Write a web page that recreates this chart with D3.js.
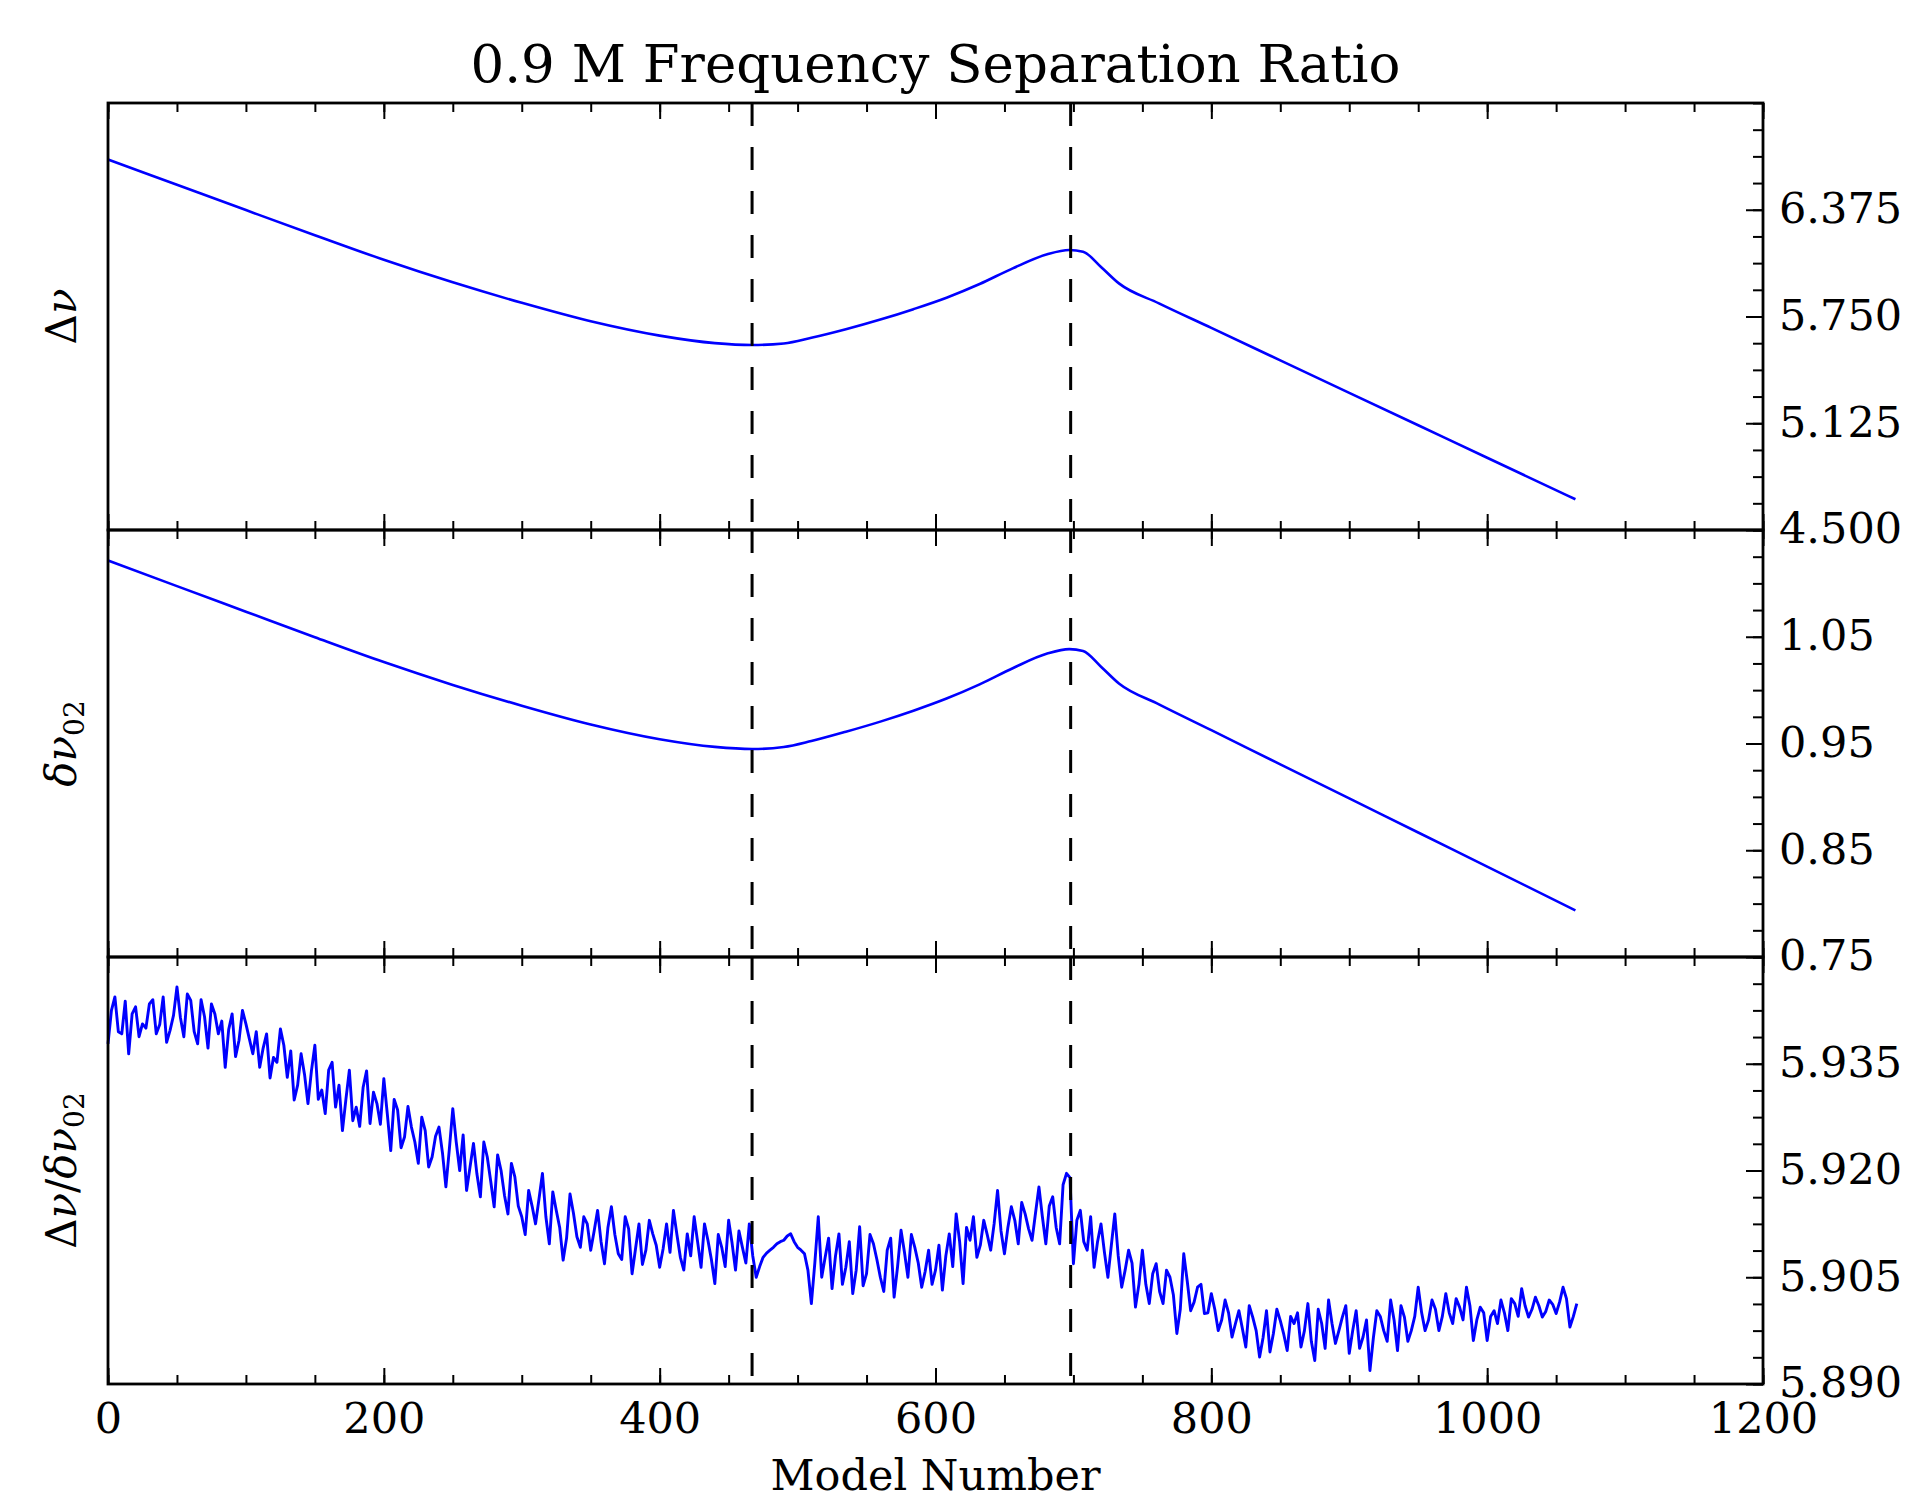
<!DOCTYPE html>
<html>
<head>
<meta charset="utf-8">
<script src="https://cdn.jsdelivr.net/npm/d3@7"></script>
<style>
  body { margin: 0; background: #fff; }
  svg text { font-family: "DejaVu Serif", serif; fill: #000; }
</style>
</head>
<body>
<div id="chart"></div>
<script>
// model numbers sampled along the smooth curves
const models = [0, 50, 100, 150, 200, 250, 300, 350, 400, 440, 467, 490, 510, 535, 560, 584,
    608, 632, 656, 681, 697, 707, 720, 733, 762, 800, 850, 900, 950, 1000, 1064];
// large separation (Δν)
const deltaNu = [6.669, 6.521, 6.373, 6.226, 6.082, 5.950, 5.830, 5.722, 5.638, 5.594, 5.583, 5.592,
    5.625, 5.675, 5.732, 5.793, 5.860, 5.940, 6.032, 6.114, 6.139, 6.129, 6.040, 5.944, 5.827,
    5.683, 5.493, 5.303, 5.113, 4.923, 4.680];
// small separation (δν02)
const smallSep = [1.1214, 1.0974, 1.0735, 1.0496, 1.0263, 1.0049, 0.9854, 0.9678, 0.9540, 0.9468,
    0.9448, 0.9467, 0.9523, 0.9610, 0.9705, 0.9807, 0.9921, 1.0054, 1.0205, 1.0342, 1.0384, 1.0366,
    1.0219, 1.0062, 0.9867, 0.9625, 0.9305, 0.8986, 0.8666, 0.8347, 0.7937];
// ratio Δν/δν02, one value every 2.5 models
const ratioModels = d3.range(0, 1065.1, 2.5);
const ratio = [
    5.9378, 5.9425, 5.9444, 5.9395, 5.9392, 5.9438, 5.9364, 5.9420, 5.9430, 5.9388, 5.9406, 5.9400, 5.9434, 5.9440, 5.9392, 5.9405, 5.9444, 5.9380, 5.9397, 5.9418,
    5.9458, 5.9415, 5.9388, 5.9448, 5.9439, 5.9395, 5.9378, 5.9440, 5.9416, 5.9372, 5.9434, 5.9420, 5.9392, 5.9410, 5.9345, 5.9398, 5.9420, 5.9360, 5.9383, 5.9425,
    5.9406, 5.9385, 5.9364, 5.9395, 5.9345, 5.9372, 5.9392, 5.9330, 5.9359, 5.9352, 5.9399, 5.9376, 5.9331, 5.9368, 5.9299, 5.9320, 5.9364, 5.9335, 5.9294, 5.9340,
    5.9376, 5.9300, 5.9313, 5.9280, 5.9341, 5.9352, 5.9289, 5.9320, 5.9256, 5.9300, 5.9341, 5.9270, 5.9289, 5.9262, 5.9317, 5.9340, 5.9266, 5.9310, 5.9294, 5.9265,
    5.9329, 5.9280, 5.9228, 5.9300, 5.9285, 5.9232, 5.9247, 5.9290, 5.9261, 5.9240, 5.9210, 5.9275, 5.9256, 5.9205, 5.9219, 5.9248, 5.9261, 5.9225, 5.9177, 5.9230,
    5.9287, 5.9240, 5.9200, 5.9250, 5.9172, 5.9205, 5.9238, 5.9195, 5.9163, 5.9240, 5.9219, 5.9185, 5.9149, 5.9222, 5.9200, 5.9165, 5.9139, 5.9210, 5.9191, 5.9150,
    5.9135, 5.9110, 5.9172, 5.9150, 5.9125, 5.9160, 5.9196, 5.9135, 5.9097, 5.9170, 5.9144, 5.9120, 5.9074, 5.9105, 5.9167, 5.9140, 5.9107, 5.9092, 5.9135, 5.9125,
    5.9088, 5.9115, 5.9144, 5.9100, 5.9069, 5.9120, 5.9149, 5.9110, 5.9083, 5.9075, 5.9135, 5.9118, 5.9055, 5.9090, 5.9125, 5.9068, 5.9088, 5.9130, 5.9111, 5.9095,
    5.9064, 5.9090, 5.9125, 5.9085, 5.9144, 5.9110, 5.9078, 5.9060, 5.9111, 5.9080, 5.9135, 5.9100, 5.9064, 5.9125, 5.9102, 5.9075, 5.9041, 5.9110, 5.9092, 5.9065,
    5.9130, 5.9098, 5.9060, 5.9115, 5.9092, 5.9070, 5.9125, 5.9080, 5.9050, 5.9065, 5.9078, 5.9084, 5.9088, 5.9092, 5.9097, 5.9100, 5.9102, 5.9108, 5.9111, 5.9100,
    5.9092, 5.9088, 5.9083, 5.9060, 5.9013, 5.9070, 5.9135, 5.9050, 5.9078, 5.9105, 5.9034, 5.9080, 5.9111, 5.9040, 5.9064, 5.9100, 5.9027, 5.9060, 5.9121, 5.9038,
    5.9055, 5.9110, 5.9097, 5.9075, 5.9050, 5.9030, 5.9088, 5.9105, 5.9022, 5.9065, 5.9116, 5.9085, 5.9050, 5.9110, 5.9092, 5.9070, 5.9036, 5.9058, 5.9088, 5.9040,
    5.9060, 5.9095, 5.9032, 5.9080, 5.9111, 5.9065, 5.9139, 5.9100, 5.9041, 5.9120, 5.9102, 5.9135, 5.9078, 5.9095, 5.9130, 5.9110, 5.9088, 5.9125, 5.9172, 5.9115,
    5.9083, 5.9120, 5.9149, 5.9130, 5.9097, 5.9155, 5.9139, 5.9118, 5.9102, 5.9140, 5.9177, 5.9135, 5.9097, 5.9150, 5.9163, 5.9120, 5.9097, 5.9180, 5.9196, 5.9190,
    5.9069, 5.9130, 5.9144, 5.9100, 5.9088, 5.9135, 5.9064, 5.9100, 5.9125, 5.9085, 5.9050, 5.9095, 5.9139, 5.9080, 5.9036, 5.9060, 5.9088, 5.9070, 5.9008, 5.9040,
    5.9088, 5.9040, 5.9013, 5.9055, 5.9069, 5.9030, 5.9013, 5.9060, 5.9050, 5.9025, 5.8971, 5.9005, 5.9083, 5.9045, 5.9003, 5.9015, 5.9036, 5.9040, 5.8999, 5.9000,
    5.9027, 5.9005, 5.8975, 5.8990, 5.9018, 5.9000, 5.8966, 5.8985, 5.9003, 5.8978, 5.8952, 5.9010, 5.8994, 5.8975, 5.8938, 5.8965, 5.9003, 5.8945, 5.8971, 5.9005,
    5.8989, 5.8970, 5.8947, 5.8995, 5.8985, 5.9000, 5.8952, 5.8975, 5.9013, 5.8960, 5.8933, 5.9005, 5.8985, 5.8950, 5.9018, 5.8985, 5.8957, 5.8975, 5.8994, 5.9010,
    5.8943, 5.8975, 5.9003, 5.8950, 5.8966, 5.8990, 5.8919, 5.8965, 5.9003, 5.8995, 5.8975, 5.8960, 5.9018, 5.8990, 5.8947, 5.9010, 5.8994, 5.8960, 5.8975, 5.8995,
    5.9036, 5.9000, 5.8975, 5.8990, 5.9018, 5.9005, 5.8975, 5.8995, 5.9027, 5.9000, 5.8985, 5.9020, 5.9008, 5.8990, 5.9036, 5.9010, 5.8961, 5.8990, 5.9008, 5.9000,
    5.8961, 5.8995, 5.9003, 5.8985, 5.9018, 5.9000, 5.8975, 5.9020, 5.9013, 5.8995, 5.9034, 5.9010, 5.8994, 5.9005, 5.9022, 5.9010, 5.8994, 5.9002, 5.9018, 5.9012,
    5.8999, 5.9015, 5.9036, 5.9020, 5.8980, 5.8995, 5.9013
];
// dashed marker lines
const markers = [467, 698];

// tick labels
const xTickLabels = ['0', '200', '400', '600', '800', '1000', '1200'];
const dnuTicks = ['4.500', '5.125', '5.750', '6.375'];
const sepTicks = ['0.75', '0.85', '0.95', '1.05'];
const ratioTicks = ['5.890', '5.905', '5.920', '5.935'];
const dnuDomain = [4.5, 7.0];
const sepDomain = [0.75, 1.15];
const ratioDomain = [5.89, 5.95];

const fullWidth = 1909;
const fullHeight = 1503;
const plotLeft = 108, plotRight = 1763, plotTop = 103;
const panelHeight = 427;

const svg = d3.select('#chart')
    .append('svg')
    .attr('width', fullWidth)
    .attr('height', fullHeight);

const x = d3.scaleLinear().domain([0, 1200]).range([plotLeft, plotRight]);
const xMinor = d3.range(0, 1201, 50);

svg.append('text')
    .attr('x', (plotLeft + plotRight) / 2)
    .attr('y', 82)
    .attr('text-anchor', 'middle')
    .style('font-size', '53px')
    .text('0.9 M Frequency Separation Ratio');

const panels = [
    {xs: models, ys: deltaNu, domain: dnuDomain, ticks: dnuTicks, minor: 0.15625, curve: d3.curveMonotoneX, width: 2.6},
    {xs: models, ys: smallSep, domain: sepDomain, ticks: sepTicks, minor: 0.025, curve: d3.curveMonotoneX, width: 2.6},
    {xs: ratioModels, ys: ratio, domain: ratioDomain, ticks: ratioTicks, minor: 0.00375, curve: d3.curveLinear, width: 2.9}
];

panels.forEach((p, i) => {
    const y0 = plotTop + i * panelHeight;
    const y = d3.scaleLinear().domain(p.domain).range([y0 + panelHeight, y0]);
    const g = svg.append('g');

    // Line
    const line = d3.line()
        .x((d, j) => x(p.xs[j]))
        .y(d => y(d))
        .curve(p.curve);
    g.append('path')
        .datum(p.ys)
        .attr('d', line)
        .attr('fill', 'none')
        .attr('stroke', '#0000ff')
        .attr('stroke-width', p.width)
        .attr('stroke-linejoin', 'round');

    // Dashed markers
    g.selectAll('.marker')
        .data(markers)
        .enter()
        .append('line')
        .attr('x1', d => x(d))
        .attr('x2', d => x(d))
        .attr('y1', y0)
        .attr('y2', y0 + panelHeight)
        .attr('stroke', '#000')
        .attr('stroke-width', 3)
        .attr('stroke-dasharray', '23,21');

    // Right y axis, ticks pointing inward
    const majorVals = p.ticks.map(Number);
    const minorVals = d3.range(p.domain[0], p.domain[1] + 1e-9, p.minor);
    g.append('g')
        .attr('transform', `translate(${plotRight}, 0)`)
        .call(d3.axisRight(y).tickValues(minorVals).tickSize(-10).tickFormat(''));
    const yAxis = g.append('g')
        .attr('transform', `translate(${plotRight}, 0)`)
        .call(d3.axisRight(y).tickValues(majorVals).tickSize(-17).tickPadding(16)
            .tickFormat((d, j) => p.ticks[j]));
    yAxis.selectAll('text').style('font-size', '43px').attr('dy', '0.3em');

    // x ticks top and bottom
    const xt = xTickLabels.map(Number);
    [[d3.axisTop, y0], [d3.axisBottom, y0 + panelHeight]].forEach(([axisFn, ay]) => {
        g.append('g')
            .attr('transform', `translate(0, ${ay})`)
            .call(axisFn(x).tickValues(xMinor).tickSize(-9).tickFormat(''));
        const a = g.append('g')
            .attr('transform', `translate(0, ${ay})`)
            .call(axisFn(x).tickValues(xt).tickSize(-16).tickPadding(18)
                .tickFormat((d, j) => (i === 2 && axisFn === d3.axisBottom) ? xTickLabels[j] : ''));
        a.selectAll('text').style('font-size', '43px');
    });

    g.selectAll('.domain').remove();
    g.selectAll('.tick line').attr('stroke', '#000').attr('stroke-width', 2);

    // Frame
    g.append('rect')
        .attr('x', plotLeft)
        .attr('y', y0)
        .attr('width', plotRight - plotLeft)
        .attr('height', panelHeight)
        .attr('fill', 'none')
        .attr('stroke', '#000')
        .attr('stroke-width', 2.8);
});

// y labels
const yLabels = svg.append('g').style('font-size', '42px');
function addLabel(cy, parts) {
    const t = yLabels.append('text')
        .attr('transform', `translate(76, ${cy}) rotate(-90)`)
        .attr('text-anchor', 'middle');
    parts.forEach(([txt, style]) => {
        const s = t.append('tspan').text(txt);
        if (style === 'i') s.style('font-style', 'italic');
        if (style === 'sub') s.style('font-size', '28px').attr('dy', '8');
    });
}
addLabel(plotTop + panelHeight / 2, [['Δ'], ['ν', 'i']]);
addLabel(plotTop + panelHeight * 1.5, [['δ', 'i'], ['ν', 'i'], ['02', 'sub']]);
addLabel(plotTop + panelHeight * 2.5, [['Δ'], ['ν', 'i'], ['/'], ['δ', 'i'], ['ν', 'i'], ['02', 'sub']]);

svg.append('text')
    .attr('x', (plotLeft + plotRight) / 2)
    .attr('y', 1490)
    .attr('text-anchor', 'middle')
    .style('font-size', '43px')
    .text('Model Number');
</script>
</body>
</html>
